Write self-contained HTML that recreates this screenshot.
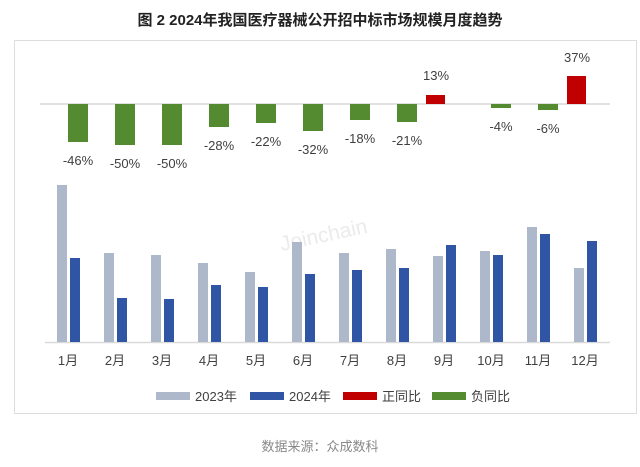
<!DOCTYPE html>
<html><head><meta charset="utf-8"><style>
html,body{margin:0;padding:0;background:#fff;}
svg{display:block;font-family:"Liberation Sans","Noto Sans CJK SC",sans-serif;}
</style></head><body>
<svg width="640" height="467" viewBox="0 0 640 467">
<text x="320" y="25" text-anchor="middle" font-size="15" font-weight="bold" fill="#222">图 2 2024年我国医疗器械公开招中标市场规模月度趋势</text>
<rect x="14.5" y="40.5" width="622" height="373" fill="#fff" stroke="#ddd" stroke-width="1"/>
<text x="323" y="242" text-anchor="middle" font-size="21" fill="#ebebeb" transform="rotate(-12 323 232)">Joinchain</text>
<line x1="40" y1="104" x2="610" y2="104" stroke="#d9d9d9" stroke-width="1.5"/>
<g fill="#548b31">
<rect x="68" y="104" width="20" height="38"/>
<rect x="115" y="104" width="20" height="41"/>
<rect x="162" y="104" width="20" height="41"/>
<rect x="209" y="104" width="20" height="23"/>
<rect x="256" y="104" width="20" height="19"/>
<rect x="303" y="104" width="20" height="27"/>
<rect x="350" y="104" width="20" height="16"/>
<rect x="397" y="104" width="20" height="18"/>
<rect x="491" y="104" width="20" height="4"/>
<rect x="538" y="104" width="20" height="6"/>
</g>
<g fill="#c00000">
<rect x="426" y="95" width="19" height="9"/>
<rect x="567" y="76" width="19" height="28"/>
</g>
<g font-size="13" fill="#404040" text-anchor="middle">
<text x="78" y="165">-46%</text>
<text x="125" y="168">-50%</text>
<text x="172" y="168">-50%</text>
<text x="219" y="150">-28%</text>
<text x="266" y="146">-22%</text>
<text x="313" y="154">-32%</text>
<text x="360" y="143">-18%</text>
<text x="407" y="145">-21%</text>
<text x="436" y="80">13%</text>
<text x="501" y="131">-4%</text>
<text x="548" y="133">-6%</text>
<text x="577" y="62">37%</text>
</g>
<line x1="45" y1="342.5" x2="610" y2="342.5" stroke="#d9d9d9" stroke-width="1.5"/>
<g fill="#adb9ca">
<rect x="57" y="185" width="10" height="157"/>
<rect x="104" y="253" width="10" height="89"/>
<rect x="151" y="255" width="10" height="87"/>
<rect x="198" y="263" width="10" height="79"/>
<rect x="245" y="272" width="10" height="70"/>
<rect x="292" y="242" width="10" height="100"/>
<rect x="339" y="253" width="10" height="89"/>
<rect x="386" y="249" width="10" height="93"/>
<rect x="433" y="256" width="10" height="86"/>
<rect x="480" y="251" width="10" height="91"/>
<rect x="527" y="227" width="10" height="115"/>
<rect x="574" y="268" width="10" height="74"/>
</g>
<g fill="#2f55a4">
<rect x="70" y="258" width="10" height="84"/>
<rect x="117" y="298" width="10" height="44"/>
<rect x="164" y="299" width="10" height="43"/>
<rect x="211" y="285" width="10" height="57"/>
<rect x="258" y="287" width="10" height="55"/>
<rect x="305" y="274" width="10" height="68"/>
<rect x="352" y="270" width="10" height="72"/>
<rect x="399" y="268" width="10" height="74"/>
<rect x="446" y="245" width="10" height="97"/>
<rect x="493" y="255" width="10" height="87"/>
<rect x="540" y="234" width="10" height="108"/>
<rect x="587" y="241" width="10" height="101"/>
</g>
<g font-size="13" fill="#404040" text-anchor="middle">
<text x="68" y="365">1月</text><text x="115" y="365">2月</text><text x="162" y="365">3月</text>
<text x="209" y="365">4月</text><text x="256" y="365">5月</text><text x="303" y="365">6月</text>
<text x="350" y="365">7月</text><text x="397" y="365">8月</text><text x="444" y="365">9月</text>
<text x="491" y="365">10月</text><text x="538" y="365">11月</text><text x="585" y="365">12月</text>
</g>
<g font-size="13" fill="#404040">
<rect x="156" y="392" width="34" height="8" fill="#adb9ca"/><text x="195" y="401">2023年</text>
<rect x="250" y="392" width="34" height="8" fill="#2f55a4"/><text x="289" y="401">2024年</text>
<rect x="343" y="392" width="34" height="8" fill="#c00000"/><text x="382" y="401">正同比</text>
<rect x="432" y="392" width="34" height="8" fill="#548b31"/><text x="471" y="401">负同比</text>
</g>
<text x="320" y="451" text-anchor="middle" font-size="13" fill="#888">数据来源：众成数科</text>
</svg>
</body></html>
